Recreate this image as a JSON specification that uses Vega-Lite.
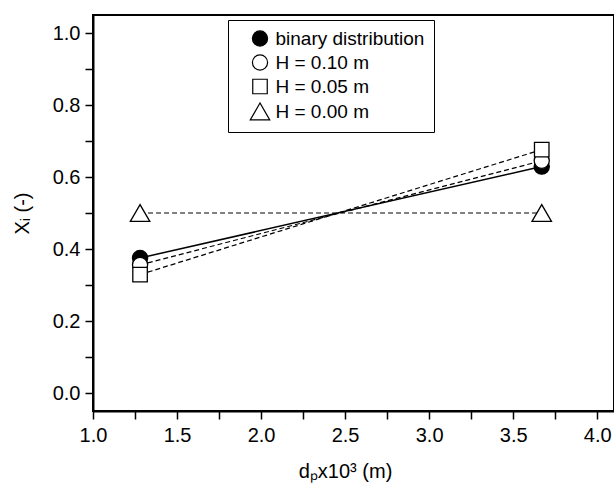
{
  "$schema": "https://vega.github.io/schema/vega-lite/v6.json",
  "width": 521,
  "height": 396,
  "autosize": {"type": "none"},
  "padding": {"left": 93, "top": 15, "right": 0, "bottom": 74},
  "background": "white",
  "config": {
    "view": {"stroke": "black", "strokeWidth": 2},
    "font": "Liberation Sans"
  },
  "data": {
    "values": [
      {"series": "binary distribution", "x": 1.28, "y": 0.375},
      {"series": "binary distribution", "x": 3.67, "y": 0.629},
      {"series": "H = 0.10 m", "x": 1.28, "y": 0.356},
      {"series": "H = 0.10 m", "x": 3.67, "y": 0.645},
      {"series": "H = 0.05 m", "x": 1.28, "y": 0.329},
      {"series": "H = 0.05 m", "x": 3.67, "y": 0.676},
      {"series": "H = 0.00 m", "x": 1.28, "y": 0.5},
      {"series": "H = 0.00 m", "x": 3.67, "y": 0.5}
    ]
  },
  "encoding": {
    "x": {
      "field": "x", "type": "quantitative",
      "scale": {"domain": [1.0, 4.1], "nice": false, "zero": false},
      "axis": {
        "title": "dₚx10³ (m)",
        "titleFont": "Liberation Sans", "titleFontSize": 20, "titleFontWeight": "normal", "titleColor": "black",
        "titleX": 252, "titleY": 66, "titleBaseline": "alphabetic",
        "values": [1.0, 1.25, 1.5, 1.75, 2.0, 2.25, 2.5, 2.75, 3.0, 3.25, 3.5, 3.75, 4.0],
        "labelExpr": "abs(datum.value*2 - round(datum.value*2)) < 0.01 ? format(datum.value, '.1f') : ''",
        "labelFont": "Liberation Sans", "labelFontSize": 20, "labelColor": "black", "labelPadding": 6,
        "labelOverlap": false, "labelFlush": false,
        "grid": false, "domainColor": "black", "domainWidth": 2,
        "tickColor": "black", "tickWidth": 1.5, "tickSize": 8,
        "encode": {"ticks": {"update": {"y2": {"signal": "abs(datum.value*2 - round(datum.value*2)) < 0.01 ? 8 : 4.5"}}}}
      }
    },
    "y": {
      "field": "y", "type": "quantitative",
      "scale": {"domain": [-0.05, 1.05], "nice": false, "zero": false},
      "axis": {
        "title": "Xᵢ (-)",
        "titleFont": "Liberation Sans", "titleFontSize": 20, "titleFontWeight": "normal", "titleColor": "black",
        "titlePadding": 20,
        "values": [0, 0.1, 0.2, 0.3, 0.4, 0.5, 0.6, 0.7, 0.8, 0.9, 1.0],
        "labelExpr": "abs(datum.value*5 - round(datum.value*5)) < 0.01 ? format(datum.value, '.1f') : ''",
        "labelFont": "Liberation Sans", "labelFontSize": 20, "labelColor": "black", "labelPadding": 5,
        "labelOverlap": false, "labelFlush": false,
        "grid": false, "domainColor": "black", "domainWidth": 2,
        "tickColor": "black", "tickWidth": 1.5, "tickSize": 8,
        "encode": {"ticks": {"update": {"x2": {"signal": "abs(datum.value*5 - round(datum.value*5)) < 0.01 ? -8 : -4.5"}}}}
      }
    }
  },
  "layer": [
    {
      "transform": [{"filter": "datum.series == 'binary distribution'"}],
      "mark": {"type": "line", "color": "black", "strokeWidth": 1.5},
      "encoding": {"detail": {"field": "series", "type": "nominal"}}
    },
    {
      "transform": [{"filter": "datum.series != 'binary distribution'"}],
      "mark": {"type": "line", "color": "black", "strokeWidth": 1.2, "strokeDash": [5, 3]},
      "encoding": {"detail": {"field": "series", "type": "nominal"}}
    },
    {
      "mark": {"type": "point", "filled": true, "stroke": "black", "strokeWidth": 1.3, "opacity": 1},
      "encoding": {
        "shape": {
          "field": "series", "type": "nominal",
          "scale": {"domain": ["binary distribution", "H = 0.10 m", "H = 0.05 m", "H = 0.00 m"],
                    "range": ["circle", "circle", "square", "triangle-up"]}
        },
        "size": {
          "field": "series", "type": "nominal",
          "scale": {"type": "ordinal", "domain": ["binary distribution", "H = 0.10 m", "H = 0.05 m", "H = 0.00 m"],
                    "range": [230, 230, 210, 380]}
        },
        "fill": {
          "field": "series", "type": "nominal",
          "scale": {"domain": ["binary distribution", "H = 0.10 m", "H = 0.05 m", "H = 0.00 m"],
                    "range": ["black", "white", "white", "white"]},
          "legend": {
            "title": null,
            "orient": "none", "legendX": 135, "legendY": 5,
            "padding": 9, "rowPadding": 3,
            "labelFont": "Liberation Sans", "labelFontSize": 19, "labelColor": "black",
            "labelExpr": "datum.label + '  '",
            "symbolOffset": 12.5, "labelOffset": 5, "symbolSize": 100,
            "symbolStrokeColor": "black", "symbolStrokeWidth": 1.2, "symbolOpacity": 1,
            "strokeColor": "black", "fillColor": "white"
          }
        }
      }
    }
  ]
}
